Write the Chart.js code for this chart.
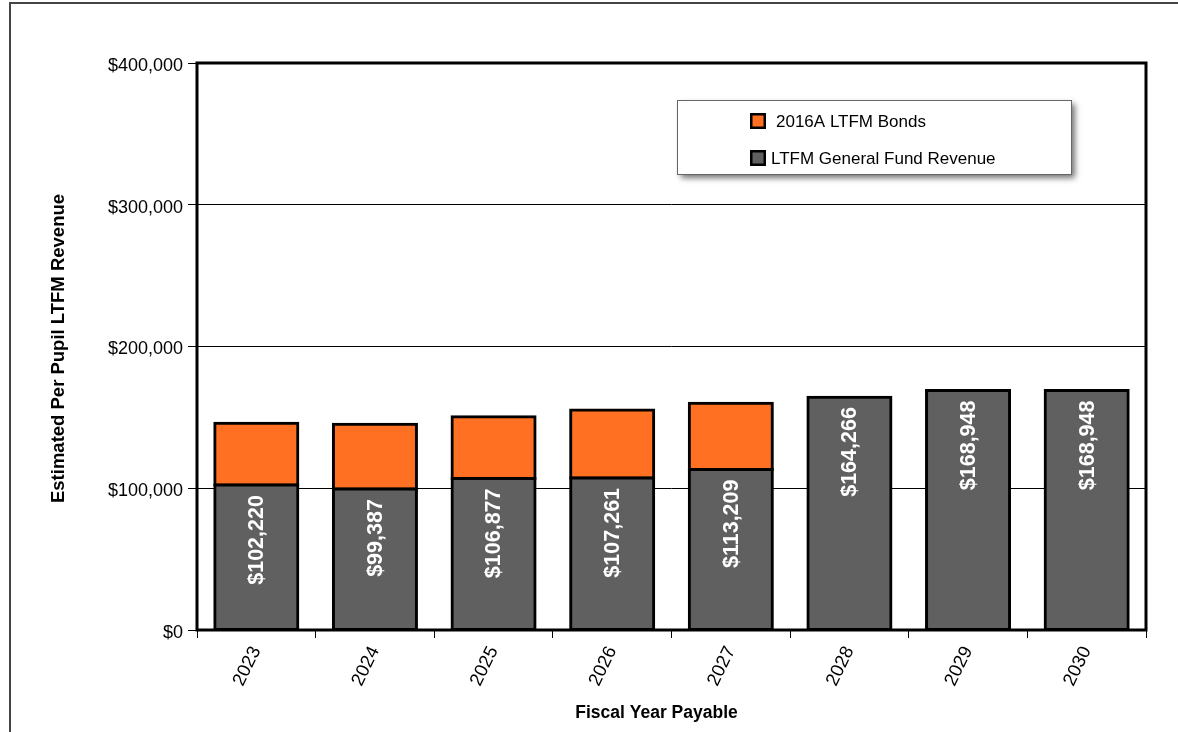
<!DOCTYPE html>
<html>
<head>
<meta charset="utf-8">
<title>Estimated Per Pupil LTFM Revenue</title>
<script src="https://cdn.jsdelivr.net/npm/chart.js@4.4.1/dist/chart.umd.min.js"></script>
<style>
  html, body { margin: 0; padding: 0; background: #fff; }
  #wrap { position: relative; width: 1178px; height: 732px; overflow: hidden; }
  #frame { position: absolute; left: 9px; top: 2px; width: 1300px; height: 800px;
           border-left: 2px solid #444; border-top: 2px solid #444; }
  canvas { position: absolute; left: 0; top: 0; }
</style>
</head>
<body>
<div id="wrap">
  <div id="frame"></div>
  <canvas id="ltfmChart" width="1178" height="732"></canvas>
</div>
<script>
var years = ['2023', '2024', '2025', '2026', '2027', '2028', '2029', '2030'];
var generalFund = [102220, 99387, 106877, 107261, 113209, 164266, 168948, 168948];
var bonds2016A = [43600, 45700, 43600, 47900, 46700, null, null, null];
var yTickValues = [0, 100000, 200000, 300000, 400000];

var FONT = '"Liberation Sans", Arial, sans-serif';
var ORANGE = '#ff7022';
var GRAY = '#606060';

function dollars(v) {
    return '$' + String(v).replace(/\B(?=(\d{3})+(?!\d))/g, ',');
}

// white value labels running up inside the gray bars
var barLabels = {
    id: 'barLabels',
    afterDatasetsDraw: function (chart) {
        var ctx = chart.ctx;
        var meta = chart.getDatasetMeta(0);
        ctx.save();
        ctx.font = 'bold 21.5px ' + FONT;
        ctx.fillStyle = '#fff';
        ctx.textAlign = 'right';
        ctx.textBaseline = 'middle';
        meta.data.forEach(function (bar, i) {
            ctx.save();
            ctx.translate(bar.x + 1, bar.y + 10);
            ctx.rotate(-Math.PI / 2);
            ctx.fillText(dollars(generalFund[i]), 0, 0);
            ctx.restore();
        });
        ctx.restore();
    }
};

// thick box round the plot, axis titles and the legend box
var decorations = {
    id: 'decorations',
    afterDraw: function (chart) {
        var ctx = chart.ctx;
        var a = chart.chartArea;
        ctx.save();
        ctx.strokeStyle = '#000';
        ctx.lineWidth = 3;
        ctx.strokeRect(a.left, a.top, a.right - a.left, a.bottom - a.top);

        ctx.fillStyle = '#000';
        ctx.font = 'bold 17.5px ' + FONT;
        ctx.textAlign = 'center';
        ctx.textBaseline = 'middle';
        ctx.fillText('Fiscal Year Payable', (a.left + a.right) / 2 - 15, 713);
        ctx.save();
        ctx.translate(59, (a.top + a.bottom) / 2 + 2);
        ctx.rotate(-Math.PI / 2);
        ctx.font = 'bold 18.5px ' + FONT;
        ctx.fillText('Estimated Per Pupil LTFM Revenue', 0, 0);
        ctx.restore();

        // legend
        var lx = 677, ly = 100, lw = 394, lh = 74;
        ctx.save();
        ctx.shadowColor = 'rgba(0,0,0,0.55)';
        ctx.shadowBlur = 6;
        ctx.shadowOffsetX = 4;
        ctx.shadowOffsetY = 4;
        ctx.fillStyle = '#fff';
        ctx.fillRect(lx, ly, lw, lh);
        ctx.restore();
        ctx.lineWidth = 1;
        ctx.strokeStyle = '#666';
        ctx.strokeRect(lx + 0.5, ly + 0.5, lw, lh);

        var items = [
            { text: '2016A LTFM Bonds', color: ORANGE, y: 121, tx: 776 },
            { text: 'LTFM General Fund Revenue', color: GRAY, y: 158, tx: 771 }
        ];
        ctx.font = '17px ' + FONT;
        ctx.textAlign = 'left';
        items.forEach(function (it) {
            ctx.fillStyle = '#000';
            ctx.fillRect(750, it.y - 8, 16, 16);
            ctx.fillStyle = it.color;
            ctx.fillRect(752.5, it.y - 5.5, 11, 11);
            ctx.fillStyle = '#000';
            ctx.fillText(it.text, it.tx, it.y + 1);
        });
        ctx.restore();
    }
};

var ctx1 = document.getElementById('ltfmChart').getContext('2d');
var ltfmChart = new Chart(ctx1, {
    type: 'bar',
    data: {
        labels: years,
        datasets: [{
            label: 'LTFM General Fund Revenue',
            data: generalFund,
            backgroundColor: GRAY,
            borderColor: '#000',
            borderWidth: 3,
            borderSkipped: false,
            inflateAmount: 1.5,
            barPercentage: 0.7,
            categoryPercentage: 1
        }, {
            label: '2016A LTFM Bonds',
            data: bonds2016A,
            backgroundColor: ORANGE,
            borderColor: '#000',
            borderWidth: 3,
            borderSkipped: false,
            inflateAmount: 1.5,
            barPercentage: 0.7,
            categoryPercentage: 1
        }]
    },
    options: {
        responsive: false,
        animation: false,
        layout: {
            padding: { top: 63, right: 32, left: 0, bottom: 0 }
        },
        plugins: {
            legend: { display: false },
            tooltip: { enabled: false }
        },
        scales: {
            x: {
                stacked: true,
                offset: true,
                afterFit: function (scale) { scale.height = 102; },
                grid: {
                    offset: true,
                    drawOnChartArea: false,
                    color: '#000',
                    tickLength: 8
                },
                border: { display: false },
                ticks: {
                    color: '#000',
                    font: { family: FONT, size: 18.5 },
                    minRotation: 64,
                    maxRotation: 64,
                    padding: 5
                }
            },
            y: {
                stacked: true,
                min: 0,
                max: 400000,
                afterFit: function (scale) { scale.width = 197; },
                afterBuildTicks: function (scale) {
                    scale.ticks = yTickValues.map(function (v) { return { value: v }; });
                },
                grid: {
                    color: '#000',
                    lineWidth: 1,
                    tickLength: 9
                },
                border: { display: false },
                ticks: {
                    color: '#000',
                    font: { family: FONT, size: 18 },
                    padding: 5,
                    labelOffset: 3,
                    callback: function (v) { return dollars(v); }
                }
            }
        }
    },
    plugins: [barLabels, decorations]
});
</script>
</body>
</html>
